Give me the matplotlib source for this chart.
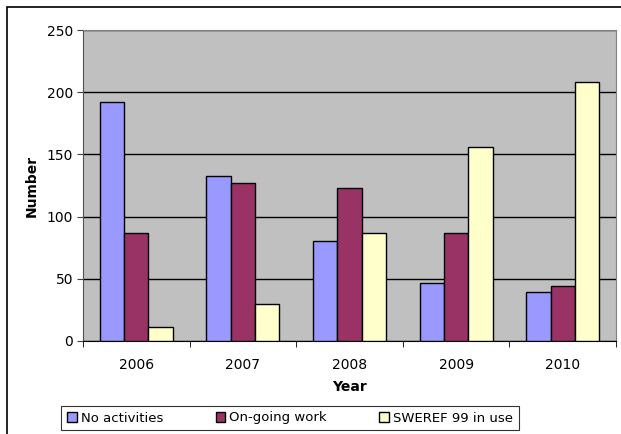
import matplotlib.pyplot as plt
import numpy as np
from matplotlib.patches import Rectangle

years = ['2006', '2007', '2008', '2009', '2010']
no_activities = [192, 133, 80, 47, 39]
ongoing_work = [87, 127, 123, 87, 44]
sweref_in_use = [11, 30, 87, 156, 208]

series = [('No activities', no_activities, '#9999FF'),
          ('On-going work', ongoing_work, '#993366'),
          ('SWEREF 99 in use', sweref_in_use, '#FFFFCC')]

plt.rcParams['font.family'] = ['DejaVu Sans']

W, H = 621, 434
fig = plt.figure(figsize=(W / 100, H / 100), dpi=100, facecolor='white')
# plot area in pixels: left 83, right 616, top 30, bottom 341
ax = fig.add_axes([83 / W, 1 - 341 / H, (616 - 83) / W, (341 - 30) / H])
ax.set_facecolor('#C0C0C0')

x = np.arange(len(years))
bw = 0.228
for i, (name, vals, col) in enumerate(series):
    ax.bar(x + (i - 1) * bw, vals, bw, color=col, edgecolor='black',
           linewidth=1.0, label=name, zorder=3)

ax.set_xlim(-0.5, len(years) - 0.5)
ax.set_ylim(0, 250)
ax.set_yticks(range(0, 251, 50))
ax.yaxis.grid(True, color='black', linewidth=1.0, zorder=1)
ax.set_axisbelow(True)

ax.set_xticks(x)
ax.set_xticklabels(years, fontsize=10)
ax.tick_params(axis='x', length=0, pad=12)
ax.set_xticks(np.arange(-0.5, len(years)), minor=True)
ax.tick_params(axis='x', which='minor', length=4, direction='out', color='black')
ax.tick_params(axis='y', length=4, direction='out', labelsize=10, pad=3, color='#404040')

for s in ['top', 'right']:
    ax.spines[s].set_color('#808080')
ax.spines['left'].set_color('#505050')
ax.spines['bottom'].set_color('black')

ax.set_xlabel('Year', fontsize=10, fontweight='bold', labelpad=6)
ax.set_ylabel('Number', fontsize=10, fontweight='bold', labelpad=6)

leg = fig.legend(loc='center', bbox_to_anchor=(290 / W, 1 - 418 / H), ncol=3,
                 fontsize=9.5, frameon=True, fancybox=False, edgecolor='black',
                 handlelength=0.7, handleheight=0.7, handletextpad=0.3,
                 columnspacing=4.0, borderpad=0.45)
leg.get_frame().set_linewidth(0.8)

# outer chart border
fig.patches.append(Rectangle((7 / W, -0.1), 1.2, 1 - 7 / H + 0.1, transform=fig.transFigure,
                             fill=False, edgecolor='black', linewidth=1.2))

fig.savefig('out.png', dpi=100, facecolor='white')
